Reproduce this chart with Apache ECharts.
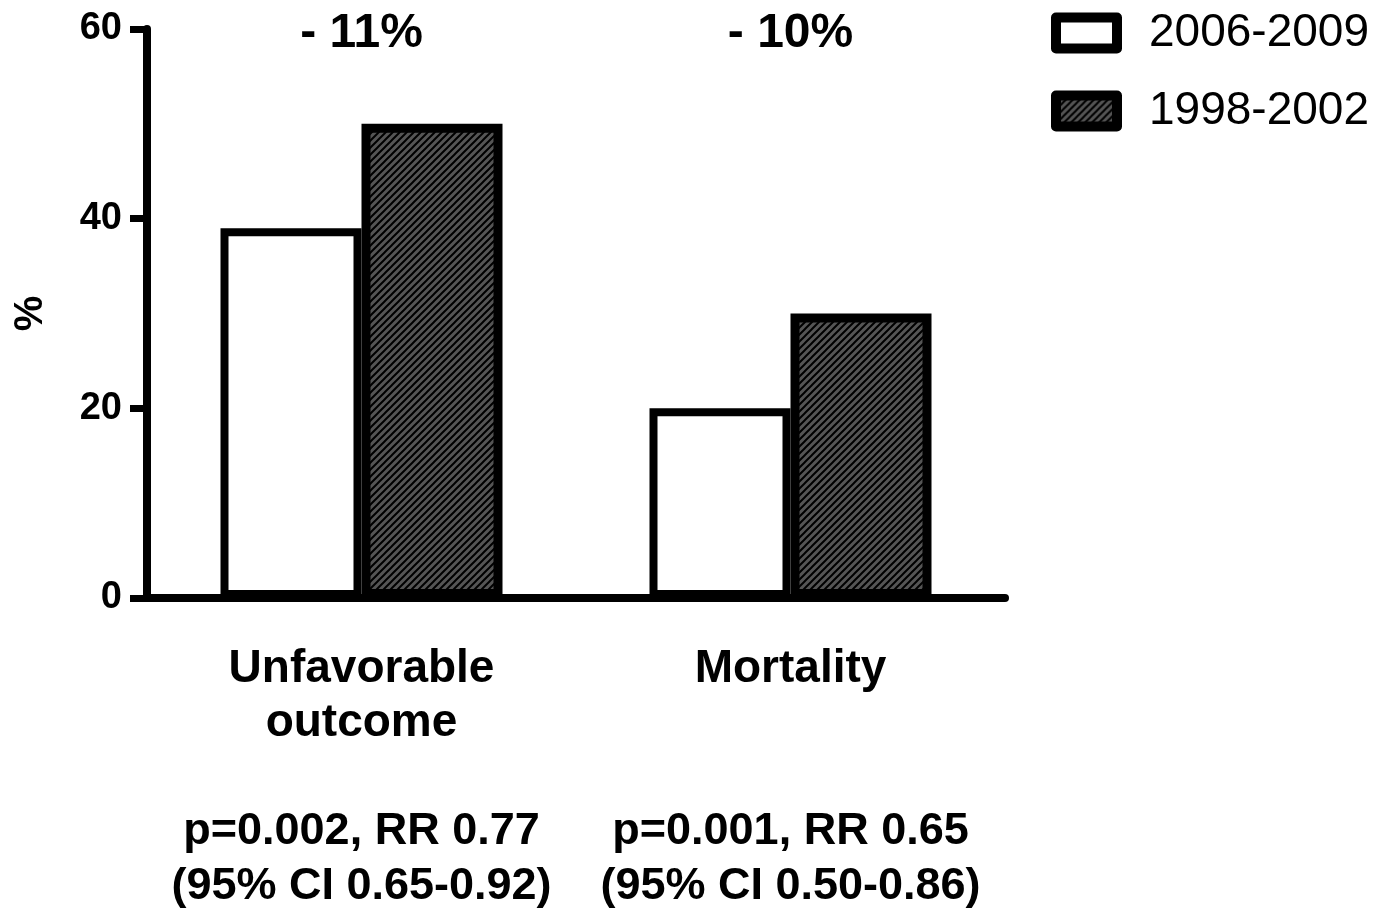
<!DOCTYPE html>
<html>
<head>
<meta charset="utf-8">
<script src="https://cdn.jsdelivr.net/npm/echarts@6/dist/echarts.min.js"></script>
<style>
html,body{margin:0;padding:0;background:#fff;}
#main{width:1377px;height:911px;}
</style>
</head>
<body>
<div id="main"></div>
<script>
// ---- data ----
const categories = ['Unfavorable\noutcome', 'Mortality'];
const series2006_2009 = [39, 20];
const series1998_2002 = [50, 30];
const seriesNames = ['2006-2009', '1998-2002'];
const changeLabels = ['- 11%', '- 10%'];
const statsLine1 = ['p=0.002, RR 0.77', 'p=0.001, RR 0.65'];
const statsLine2 = ['(95% CI 0.65-0.92)', '(95% CI 0.50-0.86)'];
const yTicks = [0, 20, 40, 60];

// ---- hatch pattern ----
function makeHatch() {
  const s = 7;
  const c = document.createElement('canvas');
  c.width = s; c.height = s;
  const g = c.getContext('2d');
  g.fillStyle = '#555555';
  g.fillRect(0, 0, s, s);
  g.strokeStyle = '#000';
  g.lineWidth = 2;
  g.beginPath();
  g.moveTo(-1, s + 1); g.lineTo(s + 1, -1);
  g.moveTo(-1, 1); g.lineTo(1, -1);
  g.moveTo(s - 1, s + 1); g.lineTo(s + 1, s - 1);
  g.stroke();
  return c;
}
const hatch = { image: makeHatch(), repeat: 'repeat' };

const FONT = '"Liberation Sans", Arial, sans-serif';

const chart = echarts.init(document.getElementById('main'));

function axisLabelText(value, idx) {
  const lines = value.split('\n');
  while (lines.length < 3) lines.push('');
  return '{c|' + lines.join('}\n{c|') + '}\n{s|' + statsLine1[idx] + '}\n{s|' + statsLine2[idx] + '}';
}

chart.setOption({
  animation: false,
  backgroundColor: '#fff',
  grid: { left: 147, right: 372, top: 29, bottom: 313, containLabel: false },
  legend: {
    orient: 'vertical',
    left: 1051,
    top: 10,
    padding: 0,
    itemWidth: 61,
    itemHeight: 31,
    itemGap: 32,
    icon: 'rect',
    data: seriesNames,
    textStyle: { fontFamily: FONT, fontSize: 46, color: '#000', lineHeight: 44, padding: [0, 0, 0, 27] },
    itemStyle: { borderColor: '#000', borderWidth: 10, borderJoin: 'round' }
  },
  xAxis: {
    type: 'category',
    data: categories,
    axisLine: { lineStyle: { color: '#000', width: 8 } },
    axisTick: { alignWithLabel: true, length: 20, lineStyle: { color: '#000', width: 6 } },
    axisLabel: {
      interval: 0,
      margin: 44,
      formatter: axisLabelText,
      rich: {
        c: { fontFamily: FONT, fontWeight: 'bold', fontSize: 46, lineHeight: 54, color: '#000' },
        s: { fontFamily: FONT, fontWeight: 'bold', fontSize: 45, lineHeight: 55, color: '#000' }
      }
    },
    splitLine: { show: false }
  },
  yAxis: {
    type: 'value',
    min: yTicks[0],
    max: yTicks[yTicks.length - 1],
    interval: 20,
    name: '%',
    nameLocation: 'middle',
    nameGap: 96,
    nameRotate: 90,
    nameTextStyle: { fontFamily: FONT, fontWeight: 'bold', fontSize: 40, color: '#000' },
    axisLine: { show: true, lineStyle: { color: '#000', width: 8 } },
    axisTick: { show: true, length: 17, lineStyle: { color: '#000', width: 7 } },
    axisLabel: { margin: 25, fontFamily: FONT, fontWeight: 'bold', fontSize: 38, color: '#000' },
    splitLine: { show: false }
  },
  series: [
    {
      name: seriesNames[0],
      type: 'bar',
      data: series2006_2009,
      barWidth: 141,
      barGap: '0%',
      itemStyle: { color: '#fff', borderColor: '#000', borderWidth: 8 }
    },
    {
      name: seriesNames[1],
      type: 'bar',
      data: series1998_2002,
      barWidth: 141,
      barGap: '0%',
      itemStyle: { color: hatch, borderColor: '#000', borderWidth: 9 }
    }
  ]
});

// change annotations above each category
const yTop = chart.convertToPixel({ yAxisIndex: 0 }, yTicks[yTicks.length - 1]);
chart.setOption({
  graphic: changeLabels.map(function (t, i) {
    const x = chart.convertToPixel({ xAxisIndex: 0 }, categories[i]);
    return {
      type: 'text',
      x: x,
      y: yTop + 5,
      style: {
        text: t,
        fontFamily: FONT,
        fontWeight: 'bold',
        fontSize: 48,
        fill: '#000',
        align: 'center',
        verticalAlign: 'middle'
      }
    };
  })
});
</script>
</body>
</html>
